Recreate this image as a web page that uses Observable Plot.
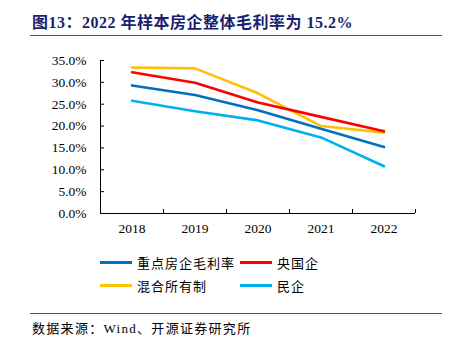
<!DOCTYPE html>
<html><head><meta charset="utf-8">
<script src="https://cdn.jsdelivr.net/npm/d3@7"></script>
<script src="https://cdn.jsdelivr.net/npm/@observablehq/plot@0.6"></script>
<style>
body{margin:0;background:#fff;}
#wrap{position:relative;width:449px;height:338px;overflow:hidden;font-family:"Liberation Serif","Noto Sans CJK SC",serif;}
#title{position:absolute;left:32px;top:9px;font-size:16px;letter-spacing:0.5px;font-weight:bold;color:#1a1f71;white-space:nowrap;}
.rule{position:absolute;left:30px;width:412px;height:0;border-top:1.3px solid #555;}
#chart{position:absolute;left:0;top:45px;}
#legend{position:absolute;left:0;top:250px;width:449px;font-size:13px;letter-spacing:1px;color:#000;}
.li{position:absolute;display:flex;align-items:center;white-space:nowrap;}
.sw{width:32px;height:3px;margin-right:5px;}
#src{position:absolute;left:32px;top:318px;font-size:13px;letter-spacing:1.3px;color:#000;white-space:nowrap;}
</style></head>
<body><div id="wrap">
<div id="title">图13：2022 年样本房企整体毛利率为 15.2%</div>
<div class="rule" style="top:35px"></div>
<div id="chart"></div>
<div id="legend"></div>
<div class="rule" style="top:313px"></div>
<div id="src">数据来源：Wind、开源证券研究所</div>
</div>
<script>
const years = [2018, 2019, 2020, 2021, 2022];
const seriesNames = ["重点房企毛利率", "央国企", "混合所有制", "民企"];
const keyFirms = [29.3, 27.1, 23.6, 19.4, 15.2];
const stateOwned = [32.3, 29.9, 25.4, 22.1, 18.8];
const mixedOwnership = [33.4, 33.2, 27.5, 20.0, 18.5];
const privateFirms = [25.8, 23.4, 21.3, 17.4, 10.8];
const colors = ["#0070C0", "#FF0000", "#FFC000", "#00B0F0"];
const yTicks = [0, 5, 10, 15, 20, 25, 30, 35];

const allSeries = [keyFirms, stateOwned, mixedOwnership, privateFirms];
const data = [];
allSeries.forEach((vals, si) => vals.forEach((v, i) => data.push({year: years[i], value: v, series: seriesNames[si]})));
const bounds = [...years.map(y => y - 0.5), years[years.length - 1] + 0.5];
const drawOrder = ["民企", "重点房企毛利率", "混合所有制", "央国企"];

const plot = Plot.plot({
  width: 449,
  height: 198,
  marginLeft: 100,
  marginRight: 34,
  marginTop: 15,
  marginBottom: 30,
  style: {fontFamily: "'Liberation Serif', serif", fontSize: "13.5px", color: "#000", background: "#fff"},
  x: {type: "linear", domain: [bounds[0], bounds[bounds.length - 1]]},
  y: {domain: [0, 35]},
  color: {domain: seriesNames, range: colors},
  marks: [
    Plot.axisY({ticks: yTicks, tickSize: 0, tickPadding: 14, tickFormat: d => d.toFixed(1) + "%", label: null, fontSize: 13.5}),
    Plot.axisY({ticks: yTicks, tickSize: -4, tickFormat: () => "", label: null, stroke: "#000"}),
    Plot.axisX({ticks: years, tickSize: 0, tickPadding: 10, tickFormat: d => String(d), label: null, fontSize: 13.5}),
    Plot.axisX({ticks: bounds, tickSize: -4, tickFormat: () => "", label: null}),
    Plot.ruleX([bounds[0]], {stroke: "#000", strokeWidth: 1}),
    Plot.ruleY([0], {stroke: "#000", strokeWidth: 1}),
    ...drawOrder.map(s => Plot.line(data.filter(d => d.series === s), {x: "year", y: "value", stroke: "series", strokeWidth: 2.6}))
  ]
});
document.getElementById("chart").appendChild(plot);

const legend = document.getElementById("legend");
const pos = [[100, 12], [240, 12], [100, 35], [240, 35]];
seriesNames.forEach((n, i) => {
  const el = document.createElement("div");
  el.className = "li";
  el.style.left = pos[i][0] + "px";
  el.style.top = (pos[i][1] - 9) + "px";
  el.innerHTML = `<span class="sw" style="background:${colors[i]}"></span><span>${n}</span>`;
  legend.appendChild(el);
});
</script>
</body></html>
